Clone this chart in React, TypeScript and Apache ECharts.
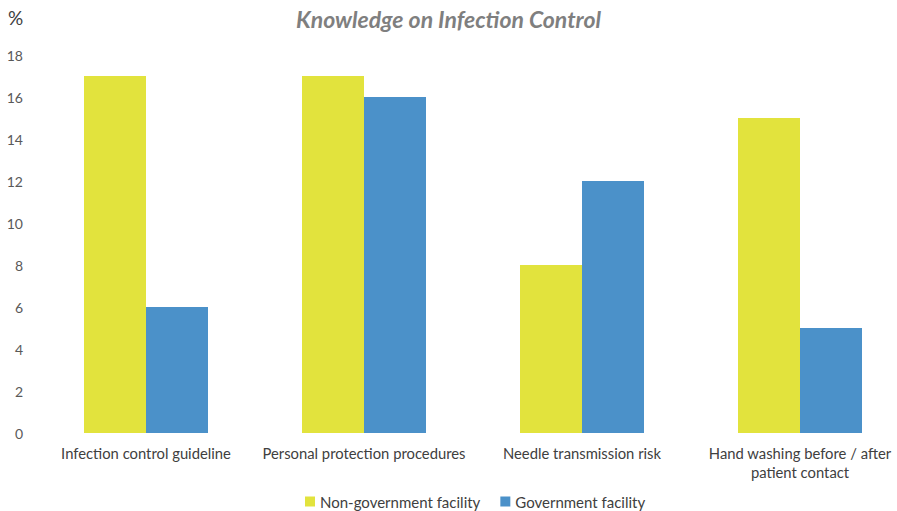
import React, { useEffect, useRef } from "react";
import * as echarts from "echarts";

const categories = [
  "Infection control guideline",
  "Personal protection procedures",
  "Needle transmission risk",
  "Hand washing before / after\npatient contact",
];
const nonGovernment = [17, 17, 8, 15];
const government = [6, 16, 12, 5];
const seriesNames = ["Non-government facility", "Government facility"];

const FONT = "Lato, 'Open Sans', sans-serif";

export default function App() {
  const ref = useRef<HTMLDivElement>(null);
  useEffect(() => {
    if (!ref.current) return;
    const chart = echarts.init(ref.current, undefined, { renderer: "svg" });
    chart.setOption({
      animation: false,
      title: {
        text: "Knowledge on Infection Control",
        left: "center",
        top: 2,
        textStyle: {
          fontFamily: FONT,
          fontStyle: "italic",
          fontWeight: "bold",
          fontSize: 23,
          color: "#7f7f7f",
        },
      },
      graphic: [
        {
          type: "text",
          left: 8,
          top: 8,
          style: { text: "%", fontFamily: FONT, fontSize: 19, fill: "#404040" },
        },
      ],
      legend: {
        bottom: -3,
        left: 300,
        itemWidth: 10,
        itemHeight: 10,
        itemGap: 20,
        icon: "rect",
        textStyle: { fontFamily: FONT, fontSize: 15, color: "#404040" },
        data: seriesNames,
      },
      grid: {
        left: 37,
        right: -12,
        top: 55,
        bottom: 78,
        containLabel: false,
        outerBoundsMode: "none",
      },
      xAxis: {
        type: "category",
        data: categories,
        axisLine: { show: false },
        axisTick: { show: false },
        axisLabel: {
          fontFamily: FONT,
          fontSize: 14.8,
          color: "#404040",
          margin: 10,
          lineHeight: 19,
          interval: 0,
        },
      },
      yAxis: {
        type: "value",
        min: 0,
        max: 18,
        interval: 2,
        splitLine: { show: false },
        axisLine: { show: false },
        axisTick: { show: false },
        axisLabel: {
          fontFamily: FONT,
          fontSize: 14,
          color: "#595959",
          margin: 14,
        },
      },
      series: [
        {
          name: seriesNames[0],
          type: "bar",
          data: nonGovernment,
          barWidth: 62,
          barGap: "0%",
          itemStyle: { color: "#E2E33D" },
        },
        {
          name: seriesNames[1],
          type: "bar",
          data: government,
          barWidth: 62,
          barGap: "0%",
          itemStyle: { color: "#4B91C9" },
        },
      ],
    });
    return () => chart.dispose();
  }, []);
  return (
    <div
      ref={ref}
      style={{ position: "absolute", left: 0, top: 0, width: 897, height: 511 }}
    />
  );
}
